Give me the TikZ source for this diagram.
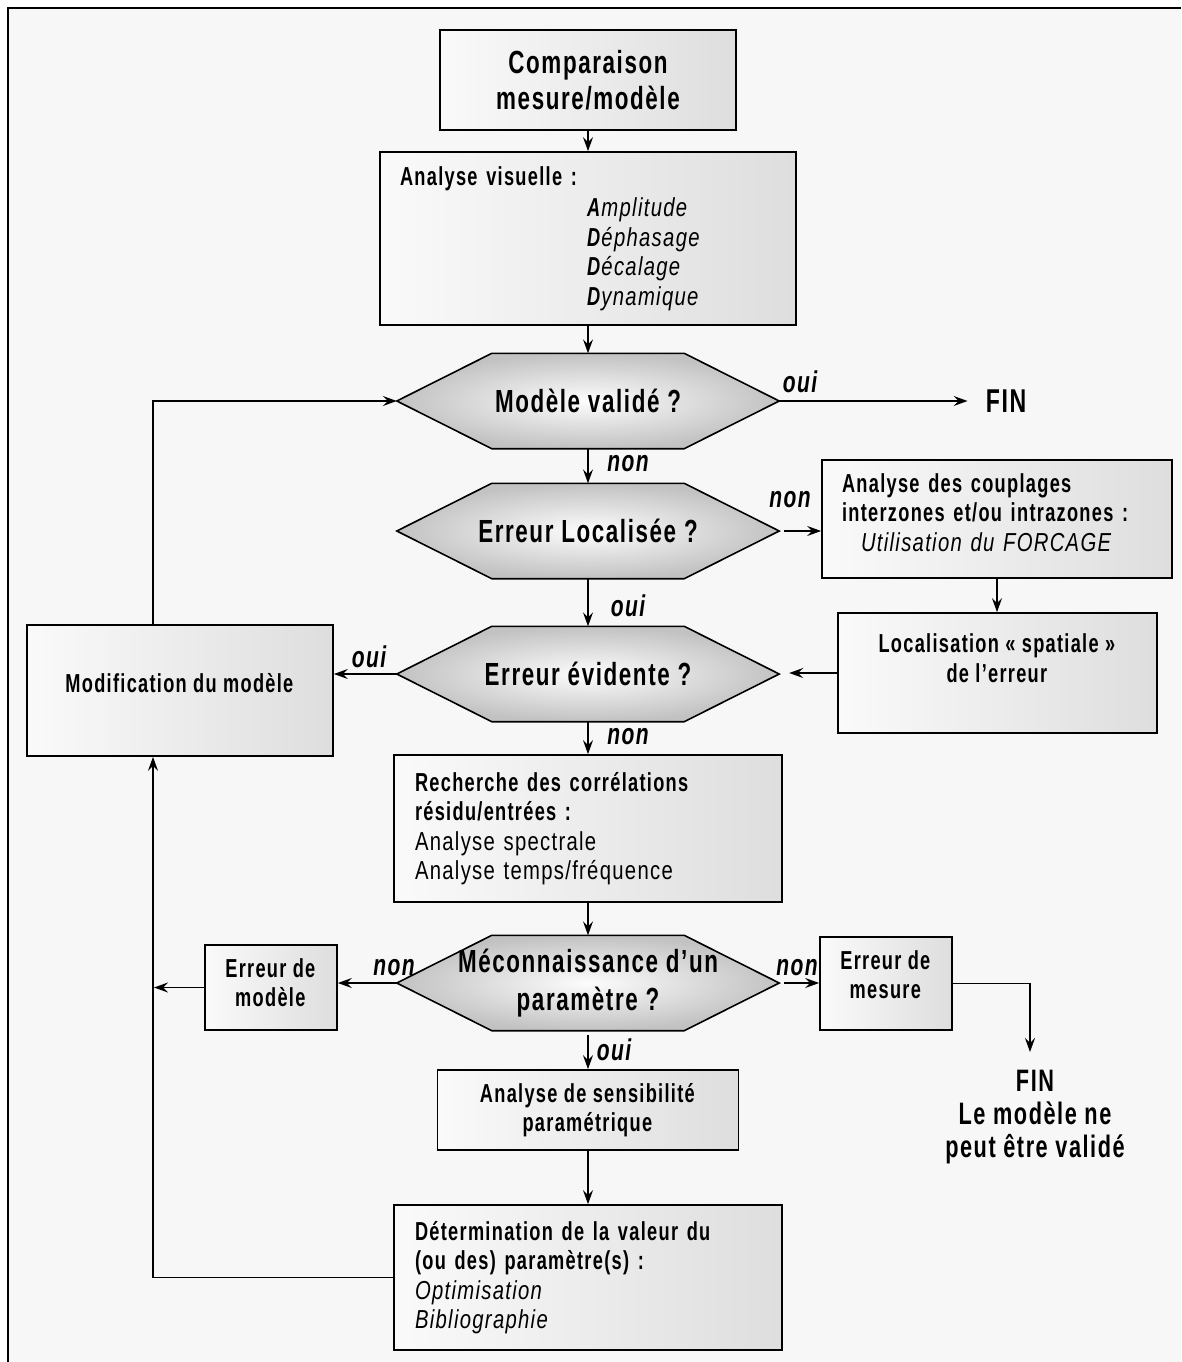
\documentclass[tikz,border=0pt]{standalone}
\usepackage{fontspec}
\setmainfont{Liberation Sans}[LetterSpace=5,
  UprightFeatures={FakeStretch=0.78},
  BoldFeatures={FakeStretch=0.7},
  ItalicFeatures={FakeStretch=0.78},
  BoldItalicFeatures={FakeStretch=0.7}]
\usetikzlibrary{arrows.meta,calc}
\pgfdeclarelayer{bottom}
\pgfdeclarelayer{shapes}
\pgfsetlayers{bottom,shapes,main}
\newcommand\bodyfont{\fontsize{26}{29.5}\selectfont}
\newcommand\hexfont{\fontsize{32}{38}\selectfont\bfseries}
\newcommand\labfont{\fontsize{30}{30}\selectfont\bfseries\itshape}
\newcommand\hexshape[1]{%
  \begin{pgfonlayer}{shapes}
  \shade[hexfill] (#1.west) -- ([xshift=95pt]#1.north west) -- ([xshift=-95pt]#1.north east)
     -- (#1.east) -- ([xshift=-95pt]#1.south east) -- ([xshift=95pt]#1.south west) -- cycle;
  \end{pgfonlayer}}
\tikzset{
  box/.style={draw=black, line width=1.7pt, left color=black!2, right color=black!13,
    inner sep=0pt, font=\bodyfont},
  hexbox/.style={minimum width=382pt, minimum height=95pt, inner sep=0pt,
    font=\hexfont, align=center},
  hexfill/.style={draw=black, line width=1.6pt, inner color=black!1, outer color=black!24},
  conn/.style={line width=1.4pt, -{Stealth[length=14pt,width=10pt,inset=5pt]}},
  lab/.style={font=\labfont, inner sep=0pt},
  endtext/.style={font=\fontsize{31}{33}\selectfont\bfseries, align=center, inner sep=0pt}
}
\begin{document}
\begin{tikzpicture}[x=1pt,y=-1pt]
\useasboundingbox (0,0) rectangle (1181,1362);
\begin{pgfonlayer}{bottom}
  \fill[white] (0,0) rectangle (1181,1362);
  \fill[black!3] (8,8) rectangle (1181,1362);
  \draw[line width=2pt] (8,1362) -- (8,8) -- (1181,8);
\end{pgfonlayer}

% boxes
\node[box, minimum width=296pt, minimum height=100pt, align=center,
  font=\fontsize{32}{36}\selectfont\bfseries] (comp) at (588,80) {Comparaison\\mesure/modèle};

\node[box, minimum width=416pt, minimum height=173pt, text width=376pt, inner xsep=20pt,
  align=left] (vis) at (588,238.5)
  {\textbf{Analyse visuelle :}\\[2pt]
   \hspace*{187pt}\textbf{\textit{A}}\textit{mplitude}\\
   \hspace*{187pt}\textbf{\textit{D}}\textit{éphasage}\\
   \hspace*{187pt}\textbf{\textit{D}}\textit{écalage}\\
   \hspace*{187pt}\textbf{\textit{D}}\textit{ynamique}};

\node[hexbox] (v1) at (588,401) {Modèle validé ?};
\hexshape{v1}
\node[endtext, font=\fontsize{33}{33}\selectfont\bfseries] (fin1) at (1006,401) {FIN};

\node[hexbox] (v2) at (588,531) {Erreur Localisée ?};
\hexshape{v2}

\node[box, minimum width=350pt, minimum height=118pt, text width=310pt, inner xsep=20pt,
  align=left] (coupl) at (997,519)
  {\textbf{Analyse des couplages}\\
   \textbf{interzones et/ou intrazones :}\\
   \hspace*{19pt}\textit{Utilisation du FORCAGE}\\[-16pt]\mbox{}};

\node[box, minimum width=319pt, minimum height=120pt, align=center] (loc) at (997.5,673)
  {\textbf{Localisation « spatiale »}\\\textbf{de l’erreur}\\\mbox{}};

\node[hexbox] (v3) at (588,674) {Erreur évidente ?};
\hexshape{v3}

\node[box, minimum width=306pt, minimum height=131pt, align=center] (modif) at (180,690.5)
  {\textbf{Modification du modèle}\\[-14pt]\mbox{}};

\node[box, minimum width=388pt, minimum height=147pt, text width=346pt, inner xsep=21pt,
  align=left] (rech) at (588,828.5)
  {\textbf{Recherche des corrélations}\\
   \textbf{résidu/entrées :}\\
   Analyse spectrale\\
   Analyse temps/fréquence};

\node[hexbox] (v4) at (588,983) {Méconnaissance d’un\\paramètre ?};
\hexshape{v4}

\node[box, minimum width=132pt, minimum height=85pt, align=center] (erm) at (271,987.5)
  {\textbf{Erreur de}\\\textbf{modèle}\\[-20pt]\mbox{}};
\node[box, minimum width=132pt, minimum height=93pt, align=center] (mes) at (886,983.5)
  {\textbf{Erreur de}\\\textbf{mesure}\\[-12pt]\mbox{}};

\node[box, minimum width=301pt, minimum height=80pt, align=center] (sens) at (588,1110)
  {\textbf{Analyse de sensibilité}\\\textbf{paramétrique}};

\node[box, minimum width=388pt, minimum height=145pt, text width=346pt, inner xsep=21pt,
  align=left] (det) at (588,1277.5)
  {\textbf{Détermination de la valeur du}\\
   \textbf{(ou des) paramètre(s) :}\\
   \textit{Optimisation}\\
   \textit{Bibliographie}};

\node[endtext] (fin2) at (1035,1117) {FIN\\Le modèle ne\\peut être validé};

% helper coordinates
\coordinate (lx) at (153,0);
\coordinate (finarrow) at (1030,1052);

% connectors
\draw[conn] (comp.south) -- (comp.south |- vis.north);
\draw[conn] (vis.south) -- (v1.north);
\draw[conn] (v1.east) -- ([xshift=-18pt]fin1.west);
\draw[conn] (v1.south) -- (v2.north);
\draw[conn, shorten <=5pt] (v2.east) -- (v2.east -| coupl.west);
\draw[conn] (coupl.south) -- (coupl.south |- loc.north);
\draw[conn] (v2.south) -- (v3.north);
\draw[conn, shorten >=10pt] (loc.west) -- (loc.west -| v3.east);
\draw[conn] (v3.west) -- (v3.west -| modif.east);
\draw[conn] (modif.north -| lx) |- (v1.west);
\draw[conn] (v3.south) -- (v3.south |- rech.north);
\draw[conn] (rech.south) -- (v4.north);
\draw[conn] (v4.west) -- (v4.west -| erm.east);
\draw[conn, shorten >=1pt] (erm.west) -- (erm.west -| lx);
\draw[conn, shorten <=5pt] (v4.east) -- (v4.east -| mes.west);
\draw[conn] (mes.east) -| (finarrow);
\draw[conn, shorten <=4pt] (v4.south) -- (v4.south |- sens.north);
\draw[conn] (sens.south) -- (det.north);
\draw[conn] (det.west) -| (modif.south -| lx);

% labels
\node[lab] (l1) at (800,382) {oui};
\node[lab] (l2) at (628,464) {non};
\node[lab] (l3) at (790,500) {non};
\node[lab] (l4) at (628,606) {oui};
\node[lab] (l5) at (369,657) {oui};
\node[lab] (l6) at (628,737) {non};
\node[lab] (l7) at (394,968) {non};
\node[lab] (l8) at (797,968) {non};
\node[lab] (l9) at (614,1050) {oui};
\end{tikzpicture}
\end{document}
